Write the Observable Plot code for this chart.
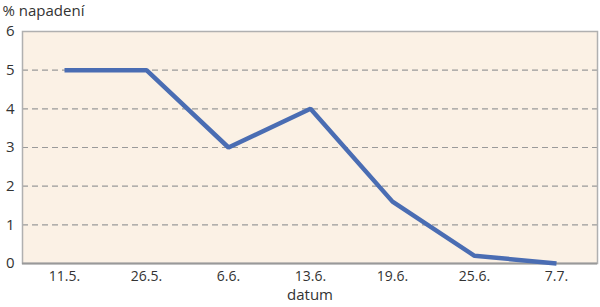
<!DOCTYPE html>
<html>
<head>
<meta charset="utf-8">
<script src="https://cdn.jsdelivr.net/npm/d3@7"></script>
<script src="https://cdn.jsdelivr.net/npm/@observablehq/plot@0.6"></script>
<style>
  html, body { margin: 0; padding: 0; background: #fff; }
  #chart svg { display: block; }
</style>
</head>
<body>
<div id="chart"></div>
<script>
const dates = ["11.5.", "26.5.", "6.6.", "13.6.", "19.6.", "25.6.", "7.7."];
const values = [5, 5, 3, 4, 1.6, 0.2, 0];
const yTicks = [0, 1, 2, 3, 4, 5, 6];
const gridTicks = [1, 2, 3, 4, 5];
const yLabel = "% napadení";
const xLabel = "datum";

const data = dates.map((d, i) => ({date: d, value: values[i]}));

const chart = Plot.plot({
  width: 600,
  height: 307,
  marginTop: 31,
  marginBottom: 44,
  marginLeft: 22,
  marginRight: 3,
  style: {fontFamily: "'Open Sans', sans-serif", fontSize: "15px", color: "#333", background: "#fff"},
  x: {type: "point", domain: dates, padding: 0.5, label: null},
  y: {domain: [0, 6], label: null},
  marks: [
    Plot.frame({fill: "#fbf1e5", stroke: "none"}),
    Plot.ruleY(gridTicks, {stroke: "#9a9a9a", strokeWidth: 1.2, strokeDasharray: "6,4"}),
    Plot.frame({stroke: "#b0b0b0", strokeWidth: 1.5, fill: "none"}),
    Plot.ruleY([0], {stroke: "#999", strokeWidth: 2}),
    Plot.axisY(yTicks, {tickSize: 0, tickPadding: 8, fontSize: 15, fill: "#333"}),
    Plot.axisX(dates, {tickSize: 0, tickPadding: 8, fontSize: 14, fill: "#333"}),
    Plot.line(data, {x: "date", y: "value", stroke: "#4a6db3", strokeWidth: 4.5, strokeLinejoin: "miter", strokeLinecap: "butt"}),
    Plot.text([yLabel], {frameAnchor: "top-left", dx: -20, dy: -26, textAnchor: "start", lineAnchor: "top", fontSize: 15, fill: "#333"}),
    Plot.text([xLabel], {frameAnchor: "bottom", dy: 36, fontSize: 15, fill: "#333"})
  ]
});
document.getElementById("chart").appendChild(chart);
</script>
</body>
</html>
